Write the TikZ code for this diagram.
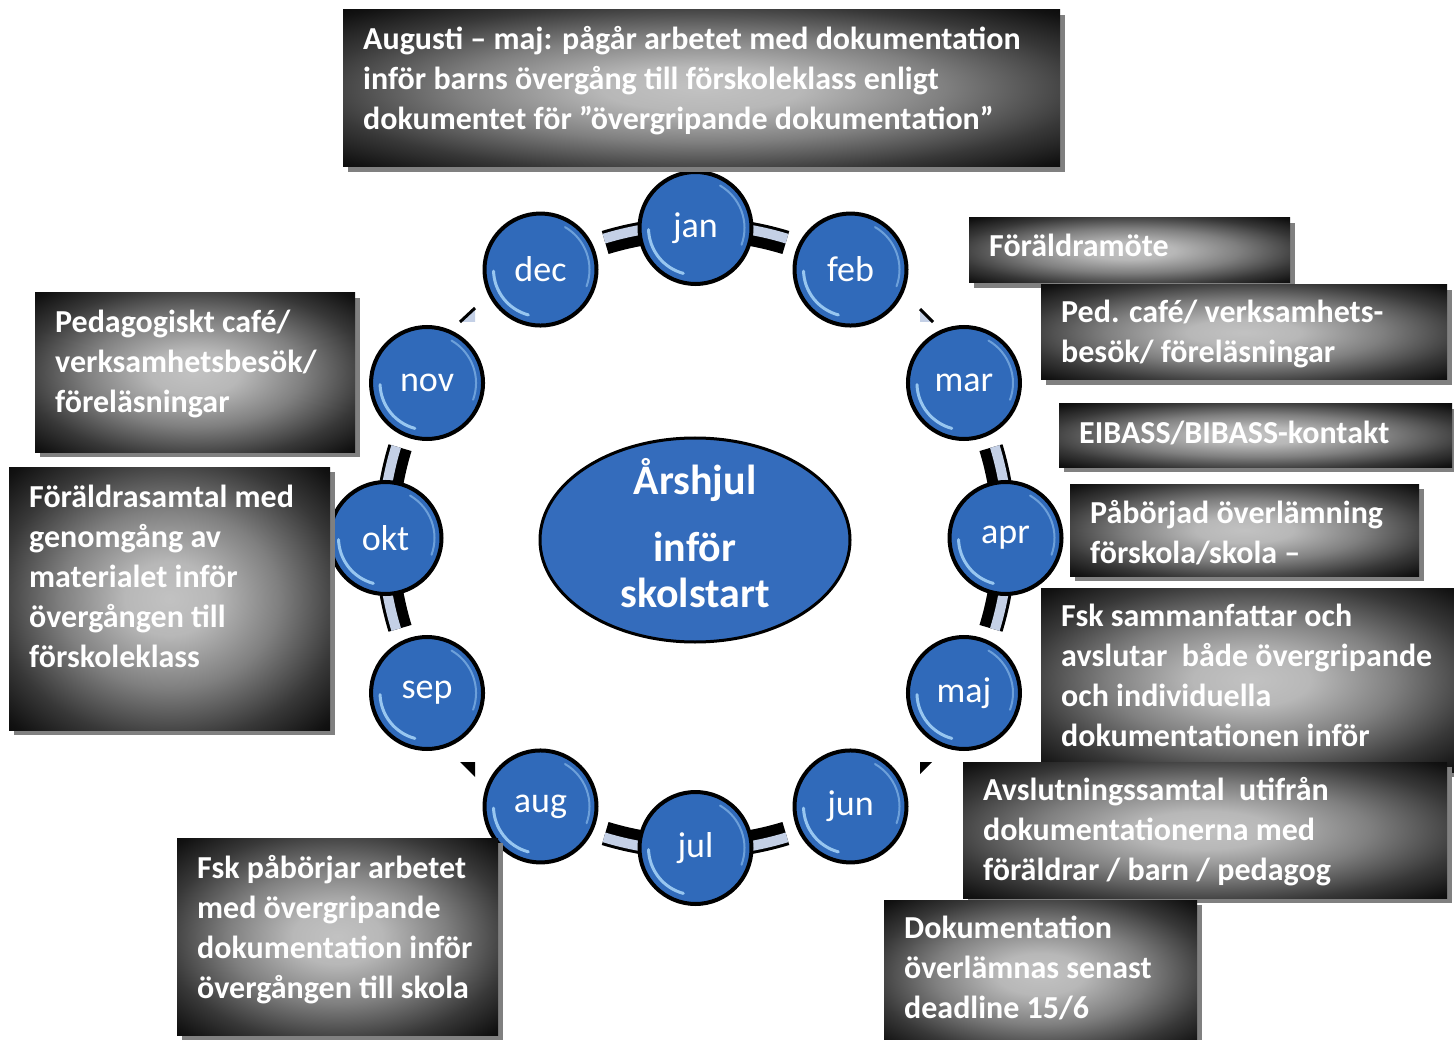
\documentclass[tikz,border=0pt]{standalone}
\usepackage{fontspec}
\setmainfont{Carlito}
\usetikzlibrary{shapes.geometric}
\definecolor{mblue}{RGB}{48,106,186}
\definecolor{cblue}{RGB}{52,108,188}
\definecolor{ringlight}{RGB}{196,208,230}
\definecolor{hilite}{RGB}{170,215,250}
\pgfdeclareradialshading{boxshade}{\pgfpoint{0bp}{0bp}}{color(0bp)=(black!24); color(7bp)=(black!28); color(17bp)=(black!50); color(27bp)=(black!78); color(34bp)=(black!93); color(39bp)=(black); color(50bp)=(black)}
\tikzset{
  month/.style={circle, minimum size=112pt, inner sep=0pt, draw=black, line width=4pt,
    fill=mblue, text=white, font=\fontsize{36}{40}\selectfont,
    path picture={
      \draw[hilite, line width=3pt, opacity=.85, line cap=round]
        (path picture bounding box.center) ++(105:47) arc[start angle=105, end angle=178, radius=47];
      \draw[hilite, line width=2pt, opacity=.5, line cap=round]
        (path picture bounding box.center) ++(-60:49) arc[start angle=-60, end angle=20, radius=49];
    }},
  hub/.style={ellipse, minimum width=310pt, minimum height=204pt, inner sep=0pt,
    draw=black, line width=3pt, fill=cblue},
  hubtext/.style={text=white, align=center, inner sep=0pt,
    font=\bfseries\fontsize{42}{46}\selectfont},
  boxtext/.style={text=white, align=left, inner sep=0pt,
    font=\bfseries\fontsize{32}{40}\selectfont},
  boxshadow/.style={fill=black!50},
}
% #1 name, #2-#5 box corners, #6 baseline of the LAST text line, #7 text
\newcommand\ibox[7]{%
  \fill[boxshadow] (#2+5,#3+5) rectangle (#4+5,#5+5);
  \shade[shading=boxshade] (#2,#3) rectangle (#4,#5);
  \node[boxtext, anchor=base west] (#1) at (#2+20,#6) {#7};}
\begin{document}
\begin{tikzpicture}[x=1pt,y=-1pt]
\fill[white] (0,0) rectangle (1454,1040);
\useasboundingbox (0,0) rectangle (1454,1040);
\coordinate (c) at (695.5,538);
% ring pieces around the cardinal months
\foreach \a [evaluate=\a as \s using \a-17, evaluate=\a as \e using \a+17] in {0,90,180,270}{
  \draw[line width=24pt, black] (c) ++(\s:309) arc[start angle=\s, end angle=\e, radius=309];
  \draw[line width=10pt, ringlight] (c) ++(\s:313) arc[start angle=\s, end angle=\e, radius=313];
}
% small arrow remnants on the diagonals
\fill[ringlight] (460,322) -- (475,308) -- (475,322) -- cycle;
\draw[line width=3pt] (460,322) -- (475,308);
\fill[black] (460,762) -- (475,762) -- (475,777) -- cycle;
\fill[black] (920,762) -- (932,762) -- (920,774) -- cycle;
\fill[ringlight] (920,309) -- (933,322) -- (920,322) -- cycle;
\draw[line width=3pt] (920,309) -- (933,322);
% months
\node[month] (jan) at ([shift={(-90:310)}]c) {jan};
\node[month] (feb) at ([shift={(-60:310)}]c) {feb};
\node[month] (mar) at ([shift={(-30:310)}]c) {mar};
\node[month] (apr) at ([shift={(0:310)}]c) {apr};
\node[month] (maj) at ([shift={(30:310)}]c) {maj};
\node[month] (jun) at ([shift={(60:310)}]c) {jun};
\node[month] (jul) at ([shift={(90:310)}]c) {jul};
\node[month] (aug) at ([shift={(120:310)}]c) {aug};
\node[month] (sep) at ([shift={(150:310)}]c) {sep};
\node[month] (okt) at ([shift={(180:310)}]c) {okt};
\node[month] (nov) at ([shift={(210:310)}]c) {nov};
\node[month] (dec) at ([shift={(240:310)}]c) {dec};
% hub
\node[hub] (hub) at (695,540) {};
\node[hubtext] (hubtext) at (695,533) {Årshjul\\[21pt]inför\\skolstart};
% boxes
\ibox{top}{343}{10}{1060}{167}{130}{Augusti – maj: pågår arbetet med dokumentation\\inför barns övergång till förskoleklass enligt\\dokumentet för ”övergripande dokumentation”}
\ibox{foraldramote}{969}{218}{1290}{283}{257}{Föräldramöte}
\ibox{pedcafe}{1041}{285}{1447}{380}{363}{Ped. café/ verksamhets-\\besök/ föreläsningar}
\ibox{eibass}{1059}{404}{1452}{467}{443}{EIBASS/BIBASS-kontakt}
\ibox{paborjad}{1070}{484}{1419}{576}{563}{Påbörjad överlämning\\förskola/skola –}
\ibox{fsksam}{1041}{588}{1462}{772}{746}{Fsk sammanfattar och\\avslutar\ \ både övergripande\\och individuella\\dokumentationen inför}
\ibox{avslut}{963}{762}{1447}{898}{880}{Avslutningssamtal\ \ utifrån\\dokumentationerna med\\föräldrar / barn / pedagog}
\ibox{dokument}{884}{900}{1197}{1048}{1018}{Dokumentation\\överlämnas senast\\deadline 15/6}
\ibox{pedagogiskt}{35}{293}{355}{452}{413}{Pedagogiskt café/\\verksamhetsbesök/\\föreläsningar}
\ibox{foraldrasamtal}{9}{467}{330}{730}{667}{Föräldrasamtal med\\genomgång av\\materialet inför\\övergången till\\förskoleklass}
\ibox{fskpab}{177}{838}{498}{1035}{998}{Fsk påbörjar arbetet\\med övergripande\\dokumentation inför\\övergången till skola}
\end{tikzpicture}
\end{document}
